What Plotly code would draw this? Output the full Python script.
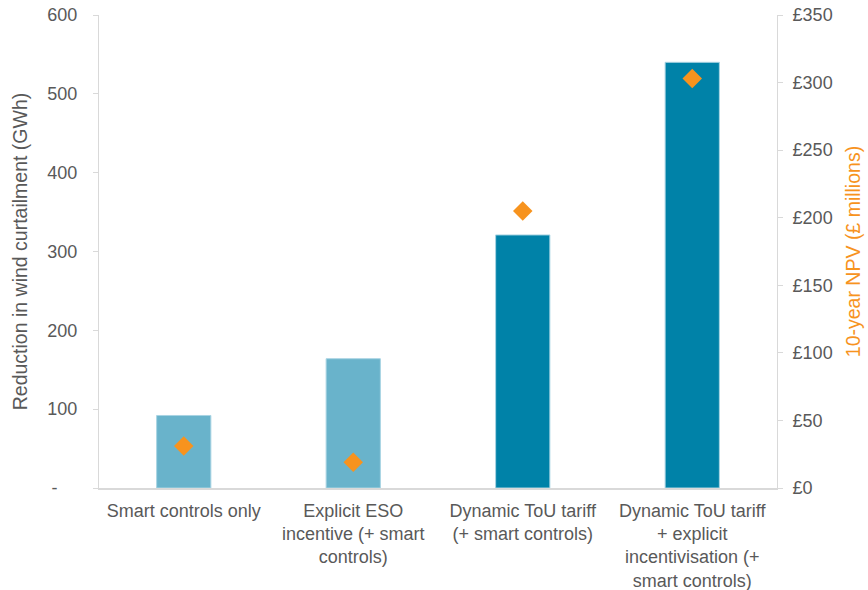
import plotly.graph_objects as go

categories = [
    "Smart controls only",
    "Explicit ESO<br>incentive (+ smart<br>controls)",
    "Dynamic ToU tariff<br>(+ smart controls)",
    "Dynamic ToU tariff<br>+ explicit<br>incentivisation (+<br>smart controls)",
]
curtailment_gwh = [92, 164, 321, 540]
npv_millions = [31, 19, 205, 303]
bar_colors = ["#69B3CB", "#69B3CB", "#0082A8", "#0082A8"]

left_ticks = [0, 100, 200, 300, 400, 500, 600]
left_ticktext = ["-\u00a0\u00a0\u00a0\u00a0", "100", "200", "300", "400", "500", "600"]
right_ticks = [0, 50, 100, 150, 200, 250, 300, 350]
right_ticktext = ["£" + str(v) for v in right_ticks]

FONT = "Liberation Sans, Arial, sans-serif"
GRAY = "#595959"
AXIS = "#D9D9D9"
FS = 18

fig = go.Figure()
fig.add_trace(go.Bar(
    x=categories, y=curtailment_gwh, marker_color=bar_colors,
    marker_line=dict(color="#A9D4E3", width=1), width=0.32,
    yaxis="y", showlegend=False,
))
fig.add_trace(go.Scatter(
    x=categories, y=npv_millions, mode="markers", yaxis="y2",
    marker=dict(symbol="diamond", size=15, color="#F7931E"),
    showlegend=False,
))

fig.update_layout(
    width=868, height=590,
    margin=dict(l=99, r=91, t=15, b=102),
    plot_bgcolor="white", paper_bgcolor="white",
    font=dict(family=FONT, size=FS, color=GRAY),
    xaxis=dict(
        showline=True, linecolor=AXIS, linewidth=2, ticks="",
        tickfont=dict(size=FS, color=GRAY), showgrid=False,
        automargin=False, ticklabelstandoff=5,
    ),
    yaxis=dict(
        range=[0, 600], tickvals=left_ticks, ticktext=left_ticktext,
        showline=True, linecolor=AXIS, linewidth=1, ticks="outside",
        ticklen=5, tickcolor=AXIS, showgrid=False, zeroline=False,
        tickfont=dict(size=FS, color=GRAY), automargin=False,
        ticklabelstandoff=12,
        title=dict(text="Reduction in wind curtailment (GWh)",
                   font=dict(size=19.5, color=GRAY), standoff=14),
    ),
    yaxis2=dict(
        range=[0, 350], tickvals=right_ticks, ticktext=right_ticktext,
        overlaying="y", side="right",
        showline=True, linecolor=AXIS, linewidth=1, ticks="outside",
        ticklen=5, tickcolor=AXIS, showgrid=False, zeroline=False,
        tickfont=dict(size=FS, color=GRAY), automargin=False,
        ticklabelstandoff=6,
        title=dict(text="10-year NPV (£ millions)",
                   font=dict(size=19.5, color="#F7931E"), standoff=14),
    ),
)

fig.write_html("out.html")
